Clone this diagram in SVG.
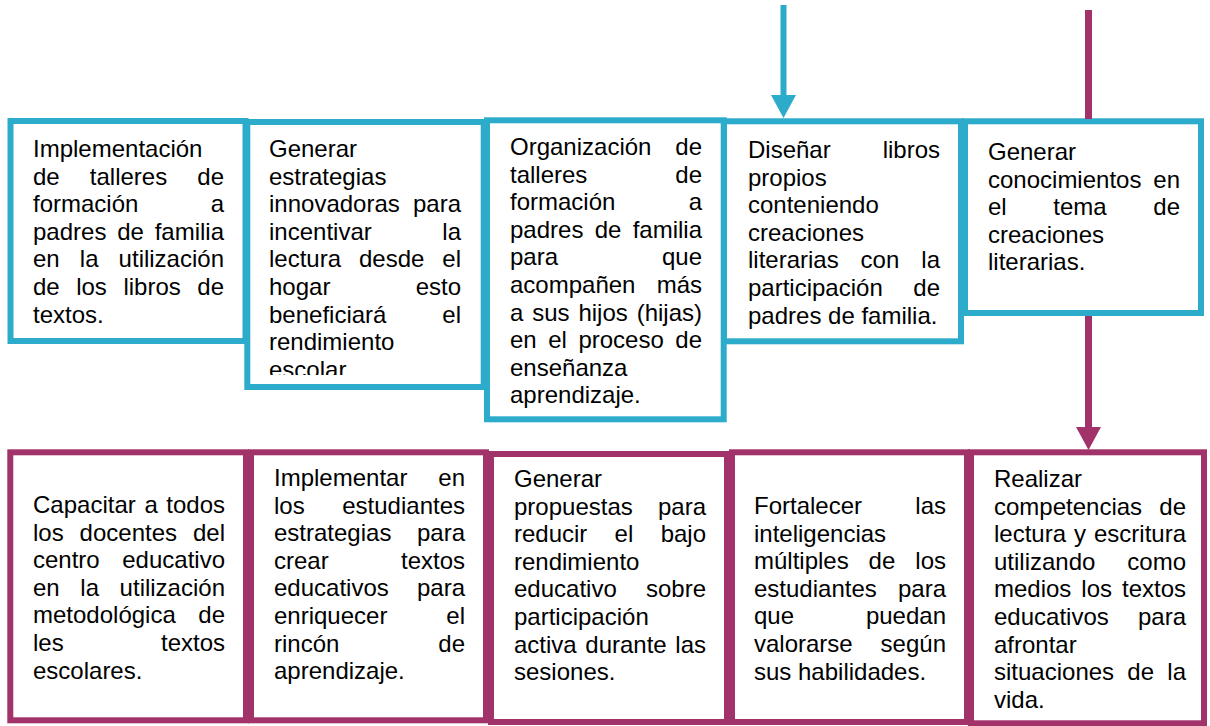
<svg xmlns="http://www.w3.org/2000/svg" width="1210" height="726" viewBox="0 0 1210 726">
<style>
.bb{fill:#fff;stroke:#2CABCA;stroke-width:6}
.mb{fill:#fff;stroke:#A1336A;stroke-width:6}
text{font-family:"Liberation Sans",Arial,sans-serif;font-size:24px;fill:#000}
.e{text-anchor:end}
</style>
<defs>
<clipPath id="c2"><rect x="250" y="124" width="232" height="251"/></clipPath>
</defs>
<rect width="1210" height="726" fill="#fff"/>
<g id="n1">
<rect class="bb" x="10.5" y="121" width="235" height="220"/>
<text x="33" y="157">Implementación</text>
<text y="184.6"><tspan x="33">de</tspan><tspan x="89.8">talleres</tspan></text><text class="e" x="224" y="184.6">de</text>
<text x="33" y="212.2">formación</text><text class="e" x="224" y="212.2">a</text>
<text y="239.8"><tspan x="33">padres</tspan><tspan x="117.2">de</tspan></text><text class="e" x="224" y="239.8">familia</text>
<text y="267.4"><tspan x="33">en</tspan><tspan x="79.8">la</tspan></text><text class="e" x="224" y="267.4">utilización</text>
<text y="295"><tspan x="33">de</tspan><tspan x="76.2">los</tspan><tspan x="123.4">libros</tspan></text><text class="e" x="224" y="295">de</text>
<text x="33" y="322.6">textos.</text>
</g>
<g id="n2">
<rect class="bb" x="247.3" y="122" width="236.4" height="265"/>
<g clip-path="url(#c2)">
<text x="269" y="157">Generar</text>
<text x="269" y="184.6">estrategias</text>
<text x="269" y="212.2">innovadoras</text><text class="e" x="461" y="212.2">para</text>
<text x="269" y="239.8">incentivar</text><text class="e" x="461" y="239.8">la</text>
<text y="267.4"><tspan x="269">lectura</tspan><tspan x="359">desde</tspan></text><text class="e" x="461" y="267.4">el</text>
<text x="269" y="295">hogar</text><text class="e" x="461" y="295">esto</text>
<text x="269" y="322.6">beneficiará</text><text class="e" x="461" y="322.6">el</text>
<text x="269" y="350.2">rendimiento</text>
<text x="269" y="377.8">escolar.</text>
</g>
</g>
<g id="n3">
<rect class="bb" x="487" y="120.3" width="236.7" height="299"/>
<text x="510" y="155">Organización</text><text class="e" x="702" y="155">de</text>
<text x="510" y="182.6">talleres</text><text class="e" x="702" y="182.6">de</text>
<text x="510" y="210.2">formación</text><text class="e" x="702" y="210.2">a</text>
<text y="237.8"><tspan x="510">padres</tspan><tspan x="594.7">de</tspan></text><text class="e" x="702" y="237.8">familia</text>
<text x="510" y="265.4">para</text><text class="e" x="702" y="265.4">que</text>
<text x="510" y="293">acompañen</text><text class="e" x="702" y="293">más</text>
<text y="320.6"><tspan x="510">a</tspan><tspan x="532.2">sus</tspan><tspan x="578.4">hijos</tspan></text><text class="e" x="702" y="320.6">(hijas)</text>
<text y="348.2"><tspan x="510">en</tspan><tspan x="548.2">el</tspan><tspan x="578.4">proceso</tspan></text><text class="e" x="702" y="348.2">de</text>
<text x="510" y="375.8">enseñanza</text>
<text x="510" y="403.4">aprendizaje.</text>
</g>
<g id="n4">
<rect class="bb" x="724" y="121.3" width="237" height="220"/>
<text x="748" y="158">Diseñar</text><text class="e" x="940" y="158">libros</text>
<text x="748" y="185.6">propios</text>
<text x="748" y="213.2">conteniendo</text>
<text x="748" y="240.8">creaciones</text>
<text y="268.4"><tspan x="748">literarias</tspan><tspan x="860.6">con</tspan></text><text class="e" x="940" y="268.4">la</text>
<text x="748" y="296">participación</text><text class="e" x="940" y="296">de</text>
<text x="748" y="323.6">padres de familia.</text>
</g>
<g id="n5">
<rect class="bb" x="965" y="121.3" width="236" height="191.7"/>
<text x="988" y="160">Generar</text>
<text x="988" y="187.6">conocimientos</text><text class="e" x="1180" y="187.6">en</text>
<text y="215.2"><tspan x="988">el</tspan><tspan x="1053.3">tema</tspan></text><text class="e" x="1180" y="215.2">de</text>
<text x="988" y="242.8">creaciones</text>
<text x="988" y="270.4">literarias.</text>
</g>
<g id="n6">
<rect class="mb" x="10.3" y="452.3" width="235.7" height="268"/>
<text y="513"><tspan x="33">Capacitar</tspan><tspan x="144.4">a</tspan></text><text class="e" x="225" y="513">todos</text>
<text y="540.6"><tspan x="33">los</tspan><tspan x="79.6">docentes</tspan></text><text class="e" x="225" y="540.6">del</text>
<text x="33" y="568.2">centro</text><text class="e" x="225" y="568.2">educativo</text>
<text y="595.8"><tspan x="33">en</tspan><tspan x="80.3">la</tspan></text><text class="e" x="225" y="595.8">utilización</text>
<text x="33" y="623.4">metodológica</text><text class="e" x="225" y="623.4">de</text>
<text x="33" y="651">les</text><text class="e" x="225" y="651">textos</text>
<text x="33" y="678.6">escolares.</text>
</g>
<g id="n7">
<rect class="mb" x="251" y="452.3" width="235" height="268"/>
<text x="274" y="486">Implementar</text><text class="e" x="465" y="486">en</text>
<text x="274" y="513.6">los</text><text class="e" x="465" y="513.6">estudiantes</text>
<text x="274" y="541.2">estrategias</text><text class="e" x="465" y="541.2">para</text>
<text x="274" y="568.8">crear</text><text class="e" x="465" y="568.8">textos</text>
<text x="274" y="596.4">educativos</text><text class="e" x="465" y="596.4">para</text>
<text x="274" y="624">enriquecer</text><text class="e" x="465" y="624">el</text>
<text x="274" y="651.6">rincón</text><text class="e" x="465" y="651.6">de</text>
<text x="274" y="679.2">aprendizaje.</text>
</g>
<g id="n8">
<rect class="mb" x="491" y="454" width="236" height="268"/>
<text x="514" y="487">Generar</text>
<text x="514" y="514.6">propuestas</text><text class="e" x="706" y="514.6">para</text>
<text y="542.2"><tspan x="514">reducir</tspan><tspan x="614.6">el</tspan></text><text class="e" x="706" y="542.2">bajo</text>
<text x="514" y="569.8">rendimiento</text>
<text x="514" y="597.4">educativo</text><text class="e" x="706" y="597.4">sobre</text>
<text x="514" y="625">participación</text>
<text y="652.6"><tspan x="514">activa</tspan><tspan x="585.3">durante</tspan></text><text class="e" x="706" y="652.6">las</text>
<text x="514" y="680.2">sesiones.</text>
</g>
<g id="n9">
<rect class="mb" x="732" y="452.3" width="235" height="269.7"/>
<text x="754" y="514">Fortalecer</text><text class="e" x="946" y="514">las</text>
<text x="754" y="541.6">inteligencias</text>
<text y="569.2"><tspan x="754">múltiples</tspan><tspan x="868.6">de</tspan></text><text class="e" x="946" y="569.2">los</text>
<text x="754" y="596.8">estudiantes</text><text class="e" x="946" y="596.8">para</text>
<text x="754" y="624.4">que</text><text class="e" x="946" y="624.4">puedan</text>
<text x="754" y="652">valorarse</text><text class="e" x="946" y="652">según</text>
<text x="754" y="679.6">sus habilidades.</text>
</g>
<g id="n10">
<rect class="mb" x="971" y="452.3" width="233" height="271"/>
<text x="994" y="487">Realizar</text>
<text x="994" y="514.6">competencias</text><text class="e" x="1186" y="514.6">de</text>
<text y="542.2"><tspan x="994">lectura</tspan><tspan x="1074">y</tspan></text><text class="e" x="1186" y="542.2">escritura</text>
<text x="994" y="569.8">utilizando</text><text class="e" x="1186" y="569.8">como</text>
<text y="597.4"><tspan x="994">medios</tspan><tspan x="1081.3">los</tspan></text><text class="e" x="1186" y="597.4">textos</text>
<text x="994" y="625">educativos</text><text class="e" x="1186" y="625">para</text>
<text x="994" y="652.6">afrontar</text>
<text y="680.2"><tspan x="994">situaciones</tspan><tspan x="1127.3">de</tspan></text><text class="e" x="1186" y="680.2">la</text>
<text x="994" y="707.8">vida.</text>
</g>
<g id="connectors">
<line x1="783.5" y1="5" x2="783.5" y2="97" stroke="#2CABCA" stroke-width="6"/>
<polygon points="771,95 796,95 783.5,118" fill="#2CABCA"/>
<line x1="1088.5" y1="10" x2="1088.5" y2="119" stroke="#A1336A" stroke-width="7"/>
<line x1="1088.5" y1="316" x2="1088.5" y2="429" stroke="#A1336A" stroke-width="7"/>
<polygon points="1076,427 1101,427 1088.5,450" fill="#A1336A"/>
</g>
</svg>
